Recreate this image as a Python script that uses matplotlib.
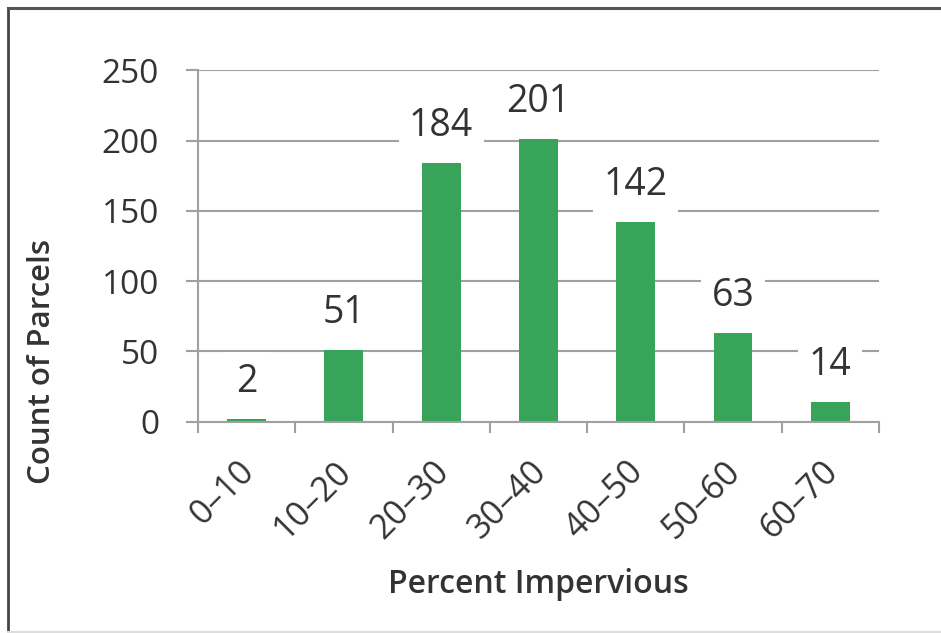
import matplotlib.pyplot as plt
from matplotlib.lines import Line2D

# parcel counts per impervious-cover bin
bins = ['0–10', '10–20', '20–30', '30–40', '40–50', '50–60', '60–70']
counts = [2, 51, 184, 201, 142, 63, 14]
yticks = [0, 50, 100, 150, 200, 250]

plt.rcParams['font.family'] = ['Open Sans', 'DejaVu Sans']
text_col = '#333333'
grid_col = '#a0a0a0'
bar_col = '#38a45a'

fig = plt.figure(figsize=(9.41, 6.33), dpi=100)
ax = fig.add_axes([0.2104, 0.3338, 0.934 - 0.2104, 0.889 - 0.3338])

x = list(range(len(bins)))
ax.bar(x, counts, width=0.4, color=bar_col, zorder=2)

ax.set_xlim(-0.5, len(bins) - 0.5)
ax.set_ylim(0, 250)
ax.set_yticks(yticks)
ax.set_yticklabels([str(v) for v in yticks], fontsize=24, color=text_col)
ax.yaxis.grid(True, color=grid_col, linewidth=1.5, zorder=0)
ax.tick_params(axis='y', length=9, width=1.5, color=grid_col, pad=19)

# category boundaries get the tick marks, centres get the labels
ax.set_xticks([i - 0.5 for i in range(len(bins) + 1)], minor=True)
ax.set_xticks(x)
ax.set_xticklabels(bins, fontsize=24.5, color=text_col, rotation=45,
                   ha='right', va='center_baseline', rotation_mode='anchor')
ax.tick_params(axis='x', which='major', length=0, pad=30)
ax.tick_params(axis='x', which='minor', length=8, width=1.5, color=grid_col)

for side in ['top', 'right']:
    ax.spines[side].set_visible(False)
for side in ['left', 'bottom']:
    ax.spines[side].set_color(grid_col)
    ax.spines[side].set_linewidth(1.5)

for xi, c in zip(x, counts):
    ax.annotate(str(c), (xi, c), xytext=(0, 19.5), textcoords='offset points',
                ha='center', va='baseline', fontsize=27, color=text_col,
                bbox=dict(boxstyle='square,pad=0.28', fc='white', ec='none'),
                zorder=3)

fig.text(42 / 941, 1 - 361 / 633, 'Count of Parcels', rotation=90,
         ha='center', va='center', fontsize=22.5, fontweight='semibold',
         color=text_col)
fig.text(538 / 941, 1 - 593 / 633, 'Percent Impervious', ha='center',
         va='baseline', fontsize=23, fontweight='semibold', color=text_col)

# outer frame
fig.add_artist(Line2D([8 / 941, 8 / 941], [0, 1 - 8 / 633],
                      transform=fig.transFigure, color='#444444', lw=2))
fig.add_artist(Line2D([8 / 941, 1], [1 - 8 / 633, 1 - 8 / 633],
                      transform=fig.transFigure, color='#555555', lw=2.2))
fig.add_artist(Line2D([8 / 941, 1], [1 / 633, 1 / 633],
                      transform=fig.transFigure, color='#dddddd', lw=1.5))

fig.savefig('out.png', dpi=100)
